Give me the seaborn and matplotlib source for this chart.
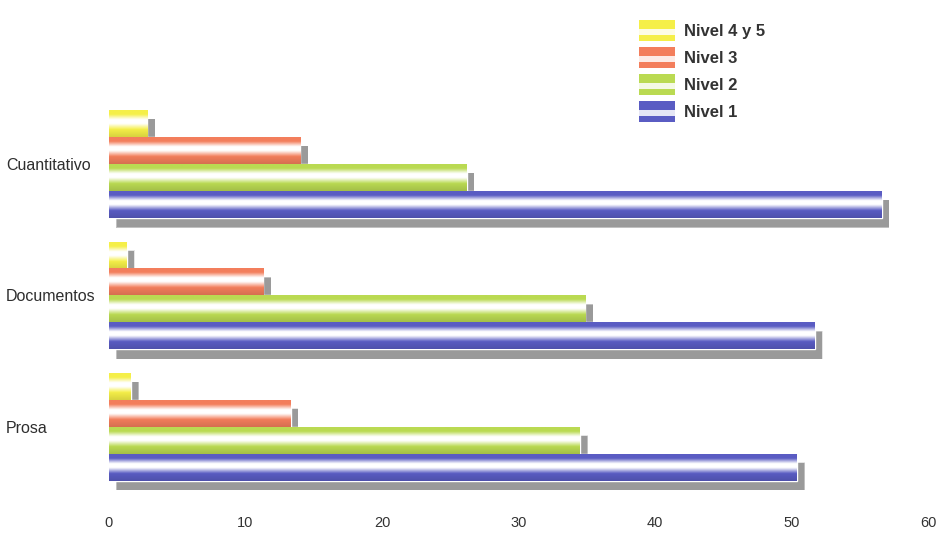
import numpy as np
import pandas as pd
import matplotlib
matplotlib.use("Agg")
import matplotlib.pyplot as plt
from matplotlib.patches import Patch, Rectangle
from matplotlib.colors import to_rgb
from matplotlib.legend_handler import HandlerBase
import seaborn as sns

# datos (porcentaje por nivel)
categorias = ["Cuantitativo", "Documentos", "Prosa"]
niveles = ["Nivel 4 y 5", "Nivel 3", "Nivel 2", "Nivel 1"]
nivel_4y5 = [2.8, 1.3, 1.6]
nivel_3 = [14.0, 11.3, 13.3]
nivel_2 = [26.2, 34.9, 34.5]
nivel_1 = [56.6, 51.7, 50.4]
colores = ["#f5ef48", "#f37e5c", "#badA52", "#5a5cc3"]

df = pd.DataFrame({
    "categoria": categorias * 4,
    "nivel": [n for n in niveles for _ in categorias],
    "valor": nivel_4y5 + nivel_3 + nivel_2 + nivel_1,
})


class TuboHandler(HandlerBase):
    # muestra de leyenda con franja blanca en el centro, como las barras
    def create_artists(self, legend, orig_handle, xdescent, ydescent,
                       width, height, fontsize, trans):
        c = orig_handle.get_facecolor()
        fondo = Rectangle((-xdescent, -ydescent), width, height, facecolor=c,
                          edgecolor="none", transform=trans)
        brillo = Rectangle((-xdescent, -ydescent + height * 0.3), width,
                           height * 0.3, facecolor="white", alpha=0.85,
                           edgecolor="none", transform=trans)
        return [fondo, brillo]


sns.set_style("white")
plt.rcParams["font.family"] = ["Liberation Sans", "DejaVu Sans"]

fig = plt.figure(figsize=(9.38, 5.39), dpi=100)
ax = fig.add_axes([0.1162, 0.0863, 0.8731, 0.731])

sns.barplot(data=df, x="valor", y="categoria", hue="nivel", order=categorias,
            hue_order=niveles, palette=colores, width=0.82, orient="h",
            saturation=1, legend=False, ax=ax, zorder=3)

# efecto tubo: franja blanca en el centro de cada barra + sombra
t = np.linspace(0, 1, 60)
blanco = np.interp(t, [0, 0.15, 0.35, 0.5, 0.72, 1], [0, 0, 1, 1, 0, 0])
oscuro = np.interp(t, [0, 0.7, 1], [1, 1, 0.88])
for p in list(ax.patches):
    x0, y0, w, h = p.get_x(), p.get_y(), p.get_width(), p.get_height()
    if w <= 0:
        continue
    base = np.array(to_rgb(p.get_facecolor()))
    img = base[None, :] * oscuro[:, None] * (1 - blanco[:, None]) + blanco[:, None]
    img = img[:, None, :]
    ax.imshow(img, extent=(x0, x0 + w, y0 + h, y0), aspect="auto",
              interpolation="bilinear", zorder=4)
    # sombra difusa
    for k, a in enumerate([0.15, 0.25, 0.35]):
        d = 0.12 * (2 - k)
        ax.add_patch(Rectangle((x0 + 0.55 - d * 0.1, y0 + 0.07 - d * 0.02),
                               w + d * 0.2, h + d * 0.04, color="#555555",
                               alpha=a, lw=0, zorder=2))

ax.set_xlim(0, 60)
ax.set_ylim(2.5, -0.5)
ax.set_xticks(range(0, 61, 10))
ax.set_xlabel("")
ax.set_ylabel("")
sns.despine(ax=ax, left=True, bottom=True)
ax.tick_params(axis="x", length=0, pad=17, labelsize=10.5, labelcolor="#333333")
ax.tick_params(axis="y", length=0, pad=74, labelsize=11.5, labelcolor="#2e2e2e")
for lab in ax.get_yticklabels():
    lab.set_horizontalalignment("left")

handles = [Patch(facecolor=c, edgecolor="none") for c in colores]
fig.legend(handles, niveles, loc="upper left", bbox_to_anchor=(0.665, 0.99),
           frameon=False, handlelength=2.2, handleheight=1.5, labelspacing=0.4,
           handletextpad=0.5, prop={"size": 12, "weight": "bold"},
           labelcolor="#333333", handler_map={Patch: TuboHandler()})

fig.savefig("out.png", dpi=100)
